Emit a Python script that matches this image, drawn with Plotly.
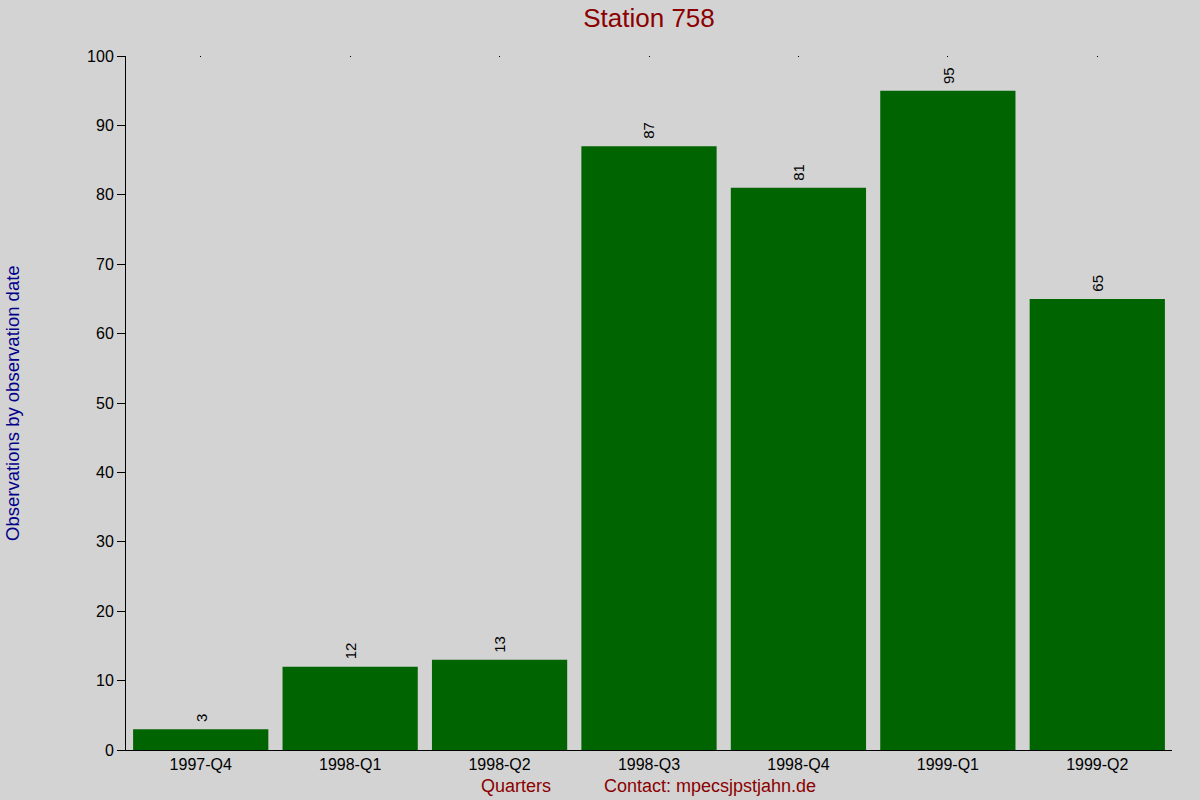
import plotly.graph_objects as go

# Quarterly observation counts for station 758
quarters = ["1997-Q4", "1998-Q1", "1998-Q2", "1998-Q3", "1998-Q4", "1999-Q1", "1999-Q2"]
observations = [3, 12, 13, 87, 81, 95, 65]
y_ticks = [0, 10, 20, 30, 40, 50, 60, 70, 80, 90, 100]

FONT = "Liberation Sans, Arial, sans-serif"
BG = "#d3d3d3"

fig = go.Figure()

fig.add_trace(
    go.Bar(
        x=quarters,
        y=observations,
        marker=go.bar.Marker(color="#006400", line=dict(width=0)),
        hoverinfo="x+y",
        showlegend=False,
    )
)

# invisible helper trace so the top axis draws its tiny tick dots
fig.add_trace(
    go.Scatter(
        x=quarters,
        y=observations,
        xaxis="x2",
        mode="markers",
        marker=dict(opacity=0),
        hoverinfo="skip",
        showlegend=False,
    )
)

# rotated value labels above each bar
value_labels = [
    dict(
        text=str(v),
        x=q,
        y=v,
        xref="x",
        yref="y",
        xanchor="center",
        yanchor="bottom",
        yshift=5,
        textangle=-90,
        showarrow=False,
        font=dict(family=FONT, size=15, color="black"),
    )
    for q, v in zip(quarters, observations)
]

fig.update_layout(
    width=1200,
    height=800,
    paper_bgcolor=BG,
    plot_bgcolor=BG,
    font=dict(family=FONT, size=16, color="black"),
    margin=dict(l=126, r=28, t=56, b=50),
    bargap=0.095,
    title=dict(
        text="Station 758",
        x=(126 + 1172) / 2 / 1200,
        xanchor="center",
        y=1 - 18 / 800,
        yanchor="middle",
        font=dict(family=FONT, size=26, color="#8b0000"),
    ),
    xaxis=go.layout.XAxis(
        type="category",
        showgrid=False,
        zeroline=False,
        showline=True,
        linecolor="black",
        linewidth=1,
        ticks="",
        tickfont=dict(family=FONT, size=16, color="black"),
        fixedrange=True,
    ),
    xaxis2=go.layout.XAxis(
        type="category",
        matches="x",
        overlaying="x",
        side="top",
        showgrid=False,
        zeroline=False,
        showline=False,
        ticks="inside",
        ticklen=1,
        tickwidth=1,
        tickcolor="black",
        showticklabels=False,
    ),
    yaxis=go.layout.YAxis(
        range=[0, 100],
        tickvals=y_ticks,
        showgrid=False,
        zeroline=False,
        showline=True,
        linecolor="black",
        linewidth=1,
        ticks="outside",
        ticklen=8,
        tickcolor="black",
        tickfont=dict(family=FONT, size=16, color="black"),
        fixedrange=True,
    ),
    annotations=value_labels
    + [
        dict(
            text="Observations by observation date",
            xref="paper",
            yref="paper",
            x=(12 - 126) / 1046,
            y=0.5,
            xanchor="center",
            yanchor="middle",
            textangle=-90,
            showarrow=False,
            font=dict(family=FONT, size=18.5, color="#00008b"),
        ),
        dict(
            text="Quarters",
            xref="paper",
            yref="paper",
            x=(516 - 126) / 1046,
            y=-(786 - 750) / 694,
            xanchor="center",
            yanchor="middle",
            showarrow=False,
            font=dict(family=FONT, size=18, color="#8b0000"),
        ),
        dict(
            text="Contact: mpecsjpstjahn.de",
            xref="paper",
            yref="paper",
            x=(710 - 126) / 1046,
            y=-(786 - 750) / 694,
            xanchor="center",
            yanchor="middle",
            showarrow=False,
            font=dict(family=FONT, size=18, color="#8b0000"),
        ),
    ],
)

# drop the browser's default page margin so the figure sits at the top-left corner
fig.write_html(
    "out.html",
    config={"displayModeBar": False},
    post_script="document.body.style.margin = '0';",
)
